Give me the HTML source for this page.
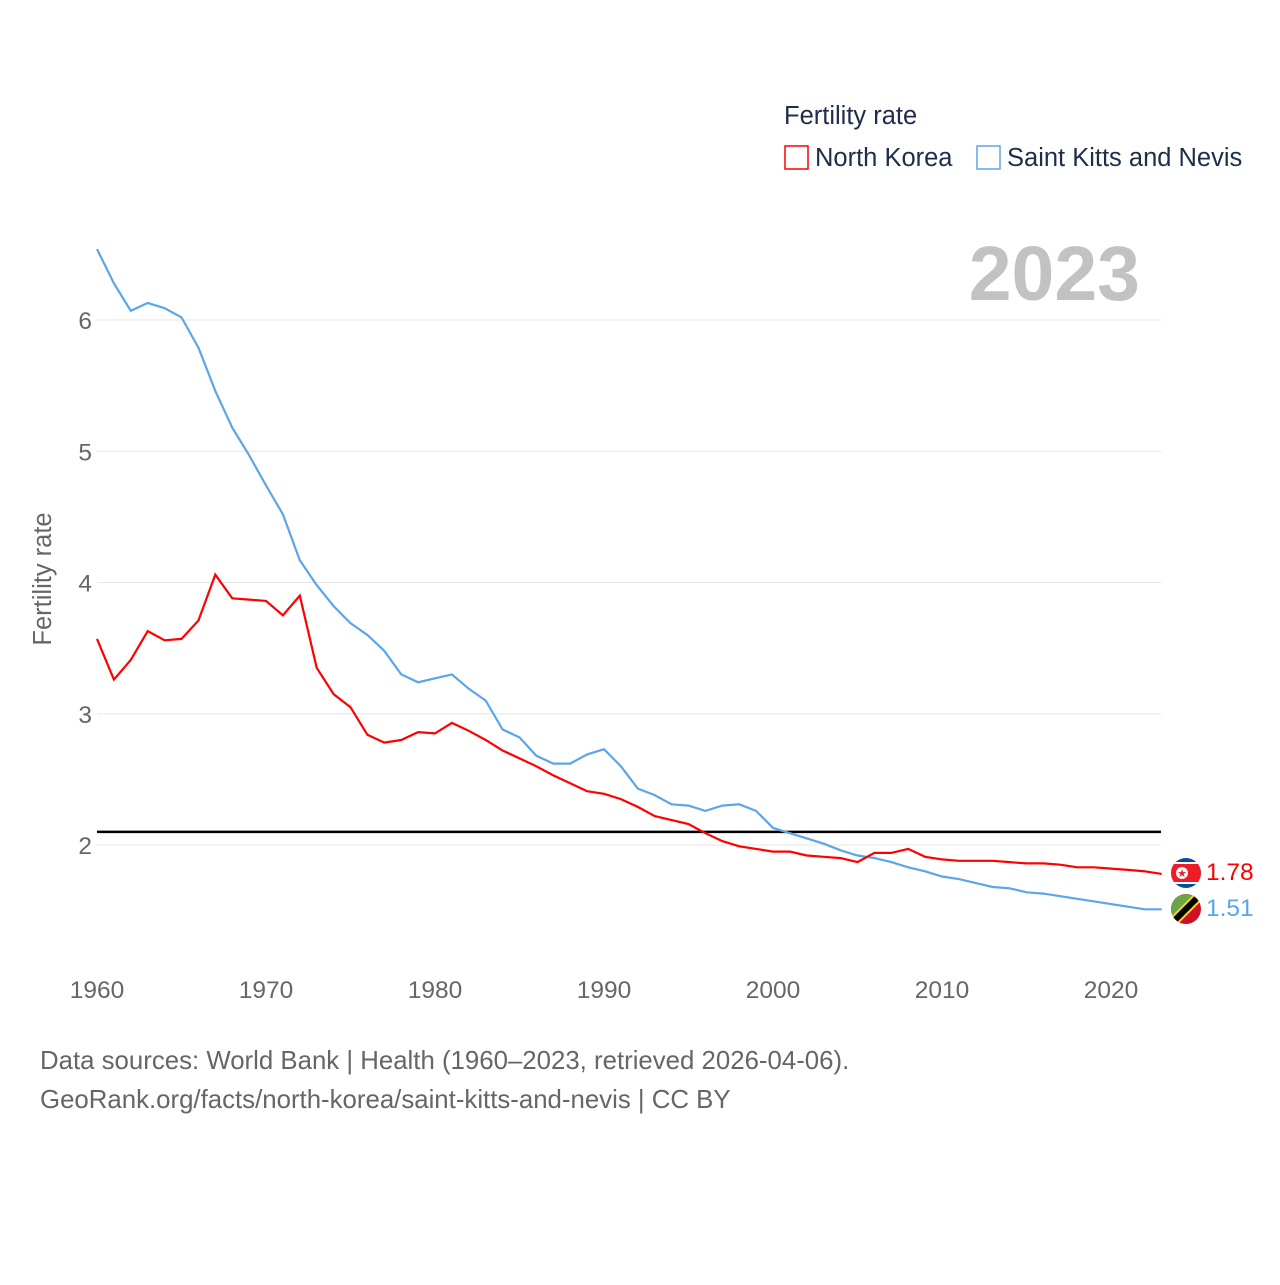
<!DOCTYPE html>
<html><head><meta charset="utf-8"><style>
body{margin:0;background:#fff;width:1280px;height:1280px;overflow:hidden;font-family:"Liberation Sans",sans-serif}
</style></head><body>
<svg width="1280" height="1280" xmlns="http://www.w3.org/2000/svg" font-family="Liberation Sans, sans-serif">
<g id="grid"></g>
<g id="ylabels"></g>
<g id="xlabels"></g>
<text x="51" y="579" transform="rotate(-90 51 579)" text-anchor="middle" font-size="25.5" fill="#666">Fertility rate</text>
<text x="1140" y="300" text-anchor="end" font-size="77" font-weight="bold" fill="#c2c2c2">2023</text>
<text x="784" y="124" font-size="25.5" fill="#1f2d4a">Fertility rate</text>
<g><rect x="785" y="146" width="23" height="23" fill="none" stroke="#ff0000" stroke-width="1.5"/><text x="815" y="166" font-size="25.5" fill="#1f2d4a">North Korea</text></g>
<g><rect x="977" y="146" width="23" height="23" fill="none" stroke="#5ba5ea" stroke-width="1.5"/><text x="1007" y="166" font-size="25.5" fill="#1f2d4a">Saint Kitts and Nevis</text></g>
<line id="ref" x1="97" x2="1161" stroke="#000" stroke-width="2.5"/>
<path id="blue" fill="none" stroke="#5ba5ea" stroke-width="2.2"/>
<path id="red" fill="none" stroke="#ff0000" stroke-width="2.2"/>
<g>
<clipPath id="c1"><circle cx="1186" cy="873" r="15"/></clipPath>
<g clip-path="url(#c1)"><rect x="1170" y="857" width="32" height="32" fill="#024fa2"/><rect x="1170" y="862" width="32" height="22" fill="#fff"/><rect x="1170" y="864" width="32" height="18" fill="#ed1c27"/><circle cx="1182" cy="873" r="6" fill="#fff"/><text x="1182" y="877" font-size="11" text-anchor="middle" fill="#ed1c27">★</text></g></g>
<g>
<clipPath id="c2"><circle cx="1186" cy="909" r="15"/></clipPath>
<g clip-path="url(#c2)"><rect x="1170" y="893" width="32" height="32" fill="#ce1126"/><polygon points="1170,893 1202,893 1170,925" fill="#6ba54a"/><line x1="1170" y1="925" x2="1202" y2="893" stroke="#fcd116" stroke-width="10"/><line x1="1170" y1="925" x2="1202" y2="893" stroke="#000" stroke-width="6"/></g></g>
<text x="1206" y="880" font-size="24.5" fill="#ff0000">1.78</text>
<text x="1206" y="916" font-size="24.5" fill="#5ba5ea">1.51</text>
<text x="40" y="1069" font-size="25.8" fill="#666">Data sources: World Bank | Health (1960–2023, retrieved 2026-04-06).</text>
<text x="40" y="1108" font-size="25.8" fill="#666">GeoRank.org/facts/north-korea/saint-kitts-and-nevis | CC BY</text>
</svg>
<script>
const startYear = 1960;
const yTicks = [2,3,4,5,6];
const xTicks = [1960,1970,1980,1990,2000,2010,2020];
const replacementRate = 2.1;
const northKorea = [3.57,3.26,3.41,3.63,3.56,3.57,3.71,4.06,3.88,3.87,3.86,3.75,3.90,3.35,3.15,3.05,2.84,2.78,2.80,2.86,2.85,2.93,2.87,2.80,2.72,2.66,2.60,2.53,2.47,2.41,2.39,2.35,2.29,2.22,2.19,2.16,2.09,2.03,1.99,1.97,1.95,1.95,1.92,1.91,1.90,1.87,1.94,1.94,1.97,1.91,1.89,1.88,1.88,1.88,1.87,1.86,1.86,1.85,1.83,1.83,1.82,1.81,1.80,1.78];
const saintKitts = [6.54,6.28,6.07,6.13,6.09,6.02,5.79,5.46,5.18,4.97,4.74,4.52,4.17,3.98,3.82,3.69,3.60,3.48,3.30,3.24,3.27,3.30,3.19,3.10,2.88,2.82,2.68,2.62,2.62,2.69,2.73,2.60,2.43,2.38,2.31,2.30,2.26,2.30,2.31,2.26,2.13,2.09,2.05,2.01,1.96,1.92,1.90,1.87,1.83,1.80,1.76,1.74,1.71,1.68,1.67,1.64,1.63,1.61,1.59,1.57,1.55,1.53,1.51,1.51];
const X = yr => 97 + (yr - 1960) * 16.9;
const Y = v => 845 - (v - 2) * 131.25;
const NS = "http://www.w3.org/2000/svg";
const grid = document.getElementById('grid'), yl = document.getElementById('ylabels'), xl = document.getElementById('xlabels');
yTicks.forEach(t => {
  const l = document.createElementNS(NS,'line');
  l.setAttribute('x1',97); l.setAttribute('x2',1161); l.setAttribute('y1',Y(t)); l.setAttribute('y2',Y(t));
  l.setAttribute('stroke','#e6e6e6'); l.setAttribute('stroke-width','1');
  
  
  grid.appendChild(l);
  const tx = document.createElementNS(NS,'text');
  tx.setAttribute('x',92); tx.setAttribute('y',Y(t)+9); tx.setAttribute('text-anchor','end');
  tx.setAttribute('font-size','24.5'); tx.setAttribute('fill','#666'); tx.textContent = t;
  
  
  yl.appendChild(tx);
});
xTicks.forEach(t => {
  const tx = document.createElementNS(NS,'text');
  tx.setAttribute('x',X(t)); tx.setAttribute('y',998); tx.setAttribute('text-anchor','middle');
  tx.setAttribute('font-size','24.5'); tx.setAttribute('fill','#666'); tx.textContent = t;
  
  
  xl.appendChild(tx);
});
const ref = document.getElementById('ref');
ref.setAttribute('y1', Y(replacementRate)); ref.setAttribute('y2', Y(replacementRate));
const mk = arr => arr.map((v,i) => (i?'L':'M') + X(startYear+i).toFixed(1) + ',' + Y(v).toFixed(1)).join('');
document.getElementById('red').setAttribute('d', mk(northKorea));
document.getElementById('blue').setAttribute('d', mk(saintKitts));
</script>
</body></html>
